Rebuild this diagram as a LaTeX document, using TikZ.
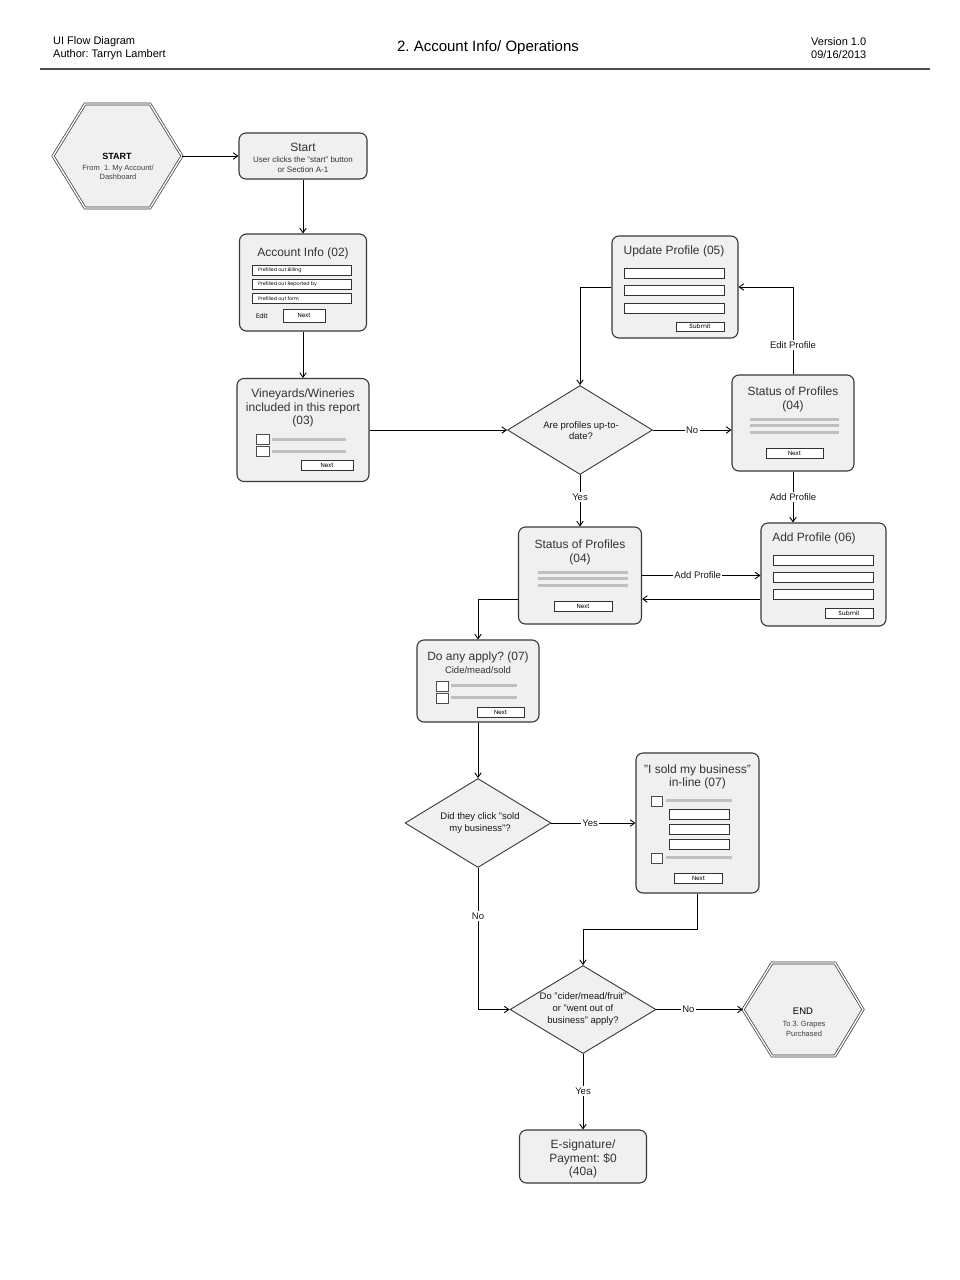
\documentclass[tikz,border=0pt]{standalone}
\usepackage{fontspec}
\setmainfont{Liberation Sans}
\newfontfamily\smallfont{Poppins}
\usetikzlibrary{shapes.geometric,arrows.meta,calc}
\definecolor{boxfill}{HTML}{F0F0F0}
\definecolor{txt}{HTML}{333333}
\frenchspacing
\begin{document}
\begin{tikzpicture}[x=1pt,y=-1pt,
 box/.style={draw=black!78, line width=1.1pt, fill=boxfill, rounded corners=7pt, inner sep=0pt},
 dia/.style={diamond, draw=black!78, line width=0.9pt, fill=boxfill, inner sep=0pt},
 conn/.style={line width=0.9pt, -{Straight Barb[length=4.5pt,width=6.5pt,line width=0.9pt]}},
 plain/.style={line width=0.9pt},
 lbl/.style={fill=white, inner sep=1.5pt, font=\fontsize{9.5}{11}\selectfont, text=black!90},
 ttl/.style={font=\fontsize{12}{13.3}\selectfont, text=txt, inner sep=0pt, align=center},
 sub/.style={font=\fontsize{8}{9.8}\selectfont, text=txt, inner sep=0pt, align=center},
 dtext/.style={font=\fontsize{9.5}{11.8}\selectfont, text=black!90, inner sep=0pt, align=center},
 fld/.style={draw=black!80, fill=white, line width=0.8pt},
 btn/.style={draw=black!80, fill=white, line width=0.8pt, inner sep=0pt, font=\smallfont\fontsize{6}{6}\selectfont},
 chk/.style={draw=black!70, fill=white, line width=0.7pt},
 gline/.style={line width=3pt, draw=black!25},
 ftext/.style={font=\smallfont\fontsize{4.8}{5}\selectfont, inner sep=0pt, anchor=west},
 hex/.style={draw=black!80, line width=0.7pt, double=white, double distance=1.4pt, fill=boxfill, line join=miter},
 hdr/.style={font=\fontsize{11}{12}\selectfont, inner sep=0pt, anchor=west},
]
\fill[white] (0,0) rectangle (960,1280);
\useasboundingbox (0,0) rectangle (960,1280);

% header
\node[hdr] (h1) at (53,42) {UI Flow Diagram};
\node[hdr] (h2) at (53,55) {Author: Tarryn Lambert};
\node[font=\fontsize{15}{16}\selectfont, inner sep=0pt] (htitle) at (488,48) {2. Account Info/ Operations};
\node[hdr] (h3) at (811,42) {Version 1.0};
\node[hdr] (h4) at (811,55) {09/16/2013};
\draw[line width=1.1pt, black!70] (40,69) -- (930,69);

% START hexagon
\draw[hex] (53,156) -- (85,104) -- (150,104) -- (182,156) -- (150,208) -- (85,208) -- cycle;
\node[minimum width=129pt, minimum height=104pt, inner sep=0pt] (starthex) at (117.5,156) {};
\node[font=\bfseries\fontsize{9}{10}\selectfont, inner sep=0pt] (starthext) at (117,156) {START};
\node[font=\fontsize{7.5}{9.8}\selectfont, text=black!75, inner sep=0pt, align=center, anchor=north] (starthexs) at (118,164.5) {From~~1. My Account/\\Dashboard};

% Start box
\node[box, minimum width=128pt, minimum height=46pt] (startbox) at (303,156) {};
\node[ttl] (startt) at (303,147) {Start};
\node[sub, anchor=north] (starts) at (303,156.5) {User clicks the "start" button\\or Section A-1};

% Account Info (02)
\node[box, minimum width=127pt, minimum height=97pt] (acct) at (303,282.5) {};
\node[ttl] (acctt) at (303,253) {Account Info (02)};
\draw[fld] (252,265.5) rectangle (351,275);
\draw[fld] (252,279.5) rectangle (351,289);
\draw[fld] (252,293.5) rectangle (351,303);
\node[ftext] (f1) at (258,270.2) {Prefilled out Billing};
\node[ftext] (f2) at (258,284.2) {Prefilled out Reported by};
\node[ftext] (f3) at (258,298.2) {Prefilled out form};
\node[font=\smallfont\fontsize{6.5}{7}\selectfont, inner sep=0pt] (acctedit) at (262,316) {Edit};
\node[btn, minimum width=42pt, minimum height=13pt] (acctnext) at (304,315.5) {Next};

% Vineyards (03)
\node[box, minimum width=132pt, minimum height=103pt] (vine) at (303,430) {};
\node[ttl, anchor=north] (vinet) at (303,389) {Vineyards/Wineries\\included in this report\\(03)};
\draw[chk] (256,434) rectangle (269,444);
\draw[chk] (256,446) rectangle (269,456);
\draw[gline] (272,439) -- (346,439);
\draw[gline] (272,451) -- (346,451);
\node[btn, minimum width=52pt, minimum height=10pt] (vinenext) at (327,465) {Next};

% Diamond 1
\node[dia, minimum width=145pt, minimum height=89pt] (d1) at (580,430) {};
\node[dtext] (d1t) at (581,430.5) {Are profiles up-to-\\date?};

% Update Profile (05)
\node[box, minimum width=126pt, minimum height=102pt] (update) at (675,287) {};
\node[ttl] (updatet) at (674,251.5) {Update Profile (05)};
\draw[fld] (624,268) rectangle (724,278);
\draw[fld] (624,285.5) rectangle (724,295.5);
\draw[fld] (624,303) rectangle (724,313);
\node[btn, minimum width=48pt, minimum height=9pt] (updsubmit) at (700,326.5) {Submit};

% Status of Profiles (04) right
\node[box, minimum width=122pt, minimum height=96pt] (statusR) at (793,423) {};
\node[ttl, anchor=north] (statusRt) at (793,387) {Status of Profiles\\(04)};
\draw[gline] (750,419) -- (839,419);
\draw[gline] (750,425.5) -- (839,425.5);
\draw[gline] (750,432) -- (839,432);
\node[btn, minimum width=57pt, minimum height=10pt] (statusRnext) at (794.5,453) {Next};

% Add Profile (06)
\node[box, minimum width=125pt, minimum height=103pt] (addp) at (823.5,574.5) {};
\node[ttl] (addpt) at (814,538) {Add Profile (06)};
\draw[fld] (773,555) rectangle (873,565);
\draw[fld] (773,572) rectangle (873,582);
\draw[fld] (773,589) rectangle (873,599);
\node[btn, minimum width=48pt, minimum height=10pt] (addsubmit) at (849,613) {Submit};

% Status of Profiles (04) middle
\node[box, minimum width=123pt, minimum height=97pt] (statusM) at (580,575.5) {};
\node[ttl, anchor=north] (statusMt) at (580,540) {Status of Profiles\\(04)};
\draw[gline] (538,572) -- (628,572);
\draw[gline] (538,578.5) -- (628,578.5);
\draw[gline] (538,585) -- (628,585);
\node[btn, minimum width=58pt, minimum height=10pt] (statusMnext) at (583,606) {Next};

% Do any apply (07)
\node[box, minimum width=122pt, minimum height=82pt] (doany) at (478,681) {};
\node[ttl] (doanyt) at (478,657) {Do any apply? (07)};
\node[font=\fontsize{9.5}{10}\selectfont, text=txt, inner sep=0pt] (doanys) at (478,670) {Cide/mead/sold};
\draw[chk] (436,681) rectangle (448,691);
\draw[chk] (436,693) rectangle (448,703);
\draw[gline] (451,685.5) -- (517,685.5);
\draw[gline] (451,697.5) -- (517,697.5);
\node[btn, minimum width=47pt, minimum height=10pt] (doanynext) at (500.5,712) {Next};

% Diamond 2
\node[dia, minimum width=146pt, minimum height=89pt] (d2) at (478,823) {};
\node[dtext] (d2t) at (480,823) {Did they click "sold\\my business"?};

% Sold box
\node[box, minimum width=123pt, minimum height=140pt] (sold) at (697.5,823) {};
\node[ttl, anchor=north] (soldt) at (697.5,764.5) {"I sold my business"\\in-line (07)};
\draw[chk] (651,796) rectangle (662,806);
\draw[gline] (666,800.5) -- (732,800.5);
\draw[fld] (669,809) rectangle (729,819);
\draw[fld] (669,824) rectangle (729,834);
\draw[fld] (669,839) rectangle (729,849);
\draw[chk] (651,853) rectangle (662,863);
\draw[gline] (666,857.5) -- (732,857.5);
\node[btn, minimum width=48pt, minimum height=10pt] (soldnext) at (698.5,878) {Next};

% Diamond 3
\node[dia, minimum width=146pt, minimum height=88pt] (d3) at (583,1009.5) {};
\node[dtext] (d3t) at (583,1009) {Do "cider/mead/fruit"\\or "went out of\\business" apply?};

% END hexagon
\draw[hex] (743,1009.5) -- (772,963) -- (835,963) -- (863,1009.5) -- (835,1056) -- (772,1056) -- cycle;
\node[minimum width=120pt, minimum height=93pt, inner sep=0pt] (endhex) at (803,1009.5) {};
\node[font=\fontsize{9.5}{10}\selectfont, inner sep=0pt] (endhext) at (803,1011) {END};
\node[font=\fontsize{7.5}{9.8}\selectfont, text=black!75, inner sep=0pt, align=center, anchor=north] (endhexs) at (804,1021) {To 3. Grapes\\Purchased};

% E-signature
\node[box, minimum width=127pt, minimum height=53pt] (esig) at (583,1156.5) {};
\node[ttl] (esigt) at (583,1159) {E-signature/\\Payment: \$0\\(40a)};

% connectors
\draw[conn] (starthex.east) -- (starthex.east -| startbox.west);
\draw[conn] (startbox.south) -- (acct.north);
\draw[conn] (acct.south) -- (vine.north);
\draw[conn] (vine.east) -- (d1.west);
\draw[conn] (update.west) -| (d1.north);
\draw[conn] (d1.east) -- node[lbl] {No} (d1.east -| statusR.west);
\draw[conn] (statusR.north) |- node[lbl, pos=0.17] {Edit Profile} (update.east);
\draw[conn] (statusR.south) -- node[lbl] {Add Profile} (statusR.south |- addp.north);
\draw[conn] (d1.south) -- node[lbl, pos=0.43] {Yes} (d1.south |- statusM.north);
\draw[conn] (statusM.east) -- node[lbl, pos=0.47] {Add Profile} (statusM.east -| addp.west);
\draw[conn] ([yshift=-23.5pt]statusM.east -| addp.west) -- ([yshift=-23.5pt]statusM.east);
\draw[conn] ([yshift=-23.5pt]statusM.west) -| (doany.north);
\draw[conn] (doany.south) -- (d2.north);
\draw[conn] (d2.east) -- node[lbl, pos=0.46] {Yes} (d2.east -| sold.west);
\draw[conn] (d2.south) |- node[lbl, pos=0.17] {No} (d3.west);
\draw[conn] (sold.south) -- ++(0,36) -| (d3.north);
\draw[conn] (d3.east) -- node[lbl, pos=0.37] {No} (endhex.west);
\draw[conn] (d3.south) -- node[lbl, pos=0.49] {Yes} (d3.south |- esig.north);
\end{tikzpicture}
\end{document}
